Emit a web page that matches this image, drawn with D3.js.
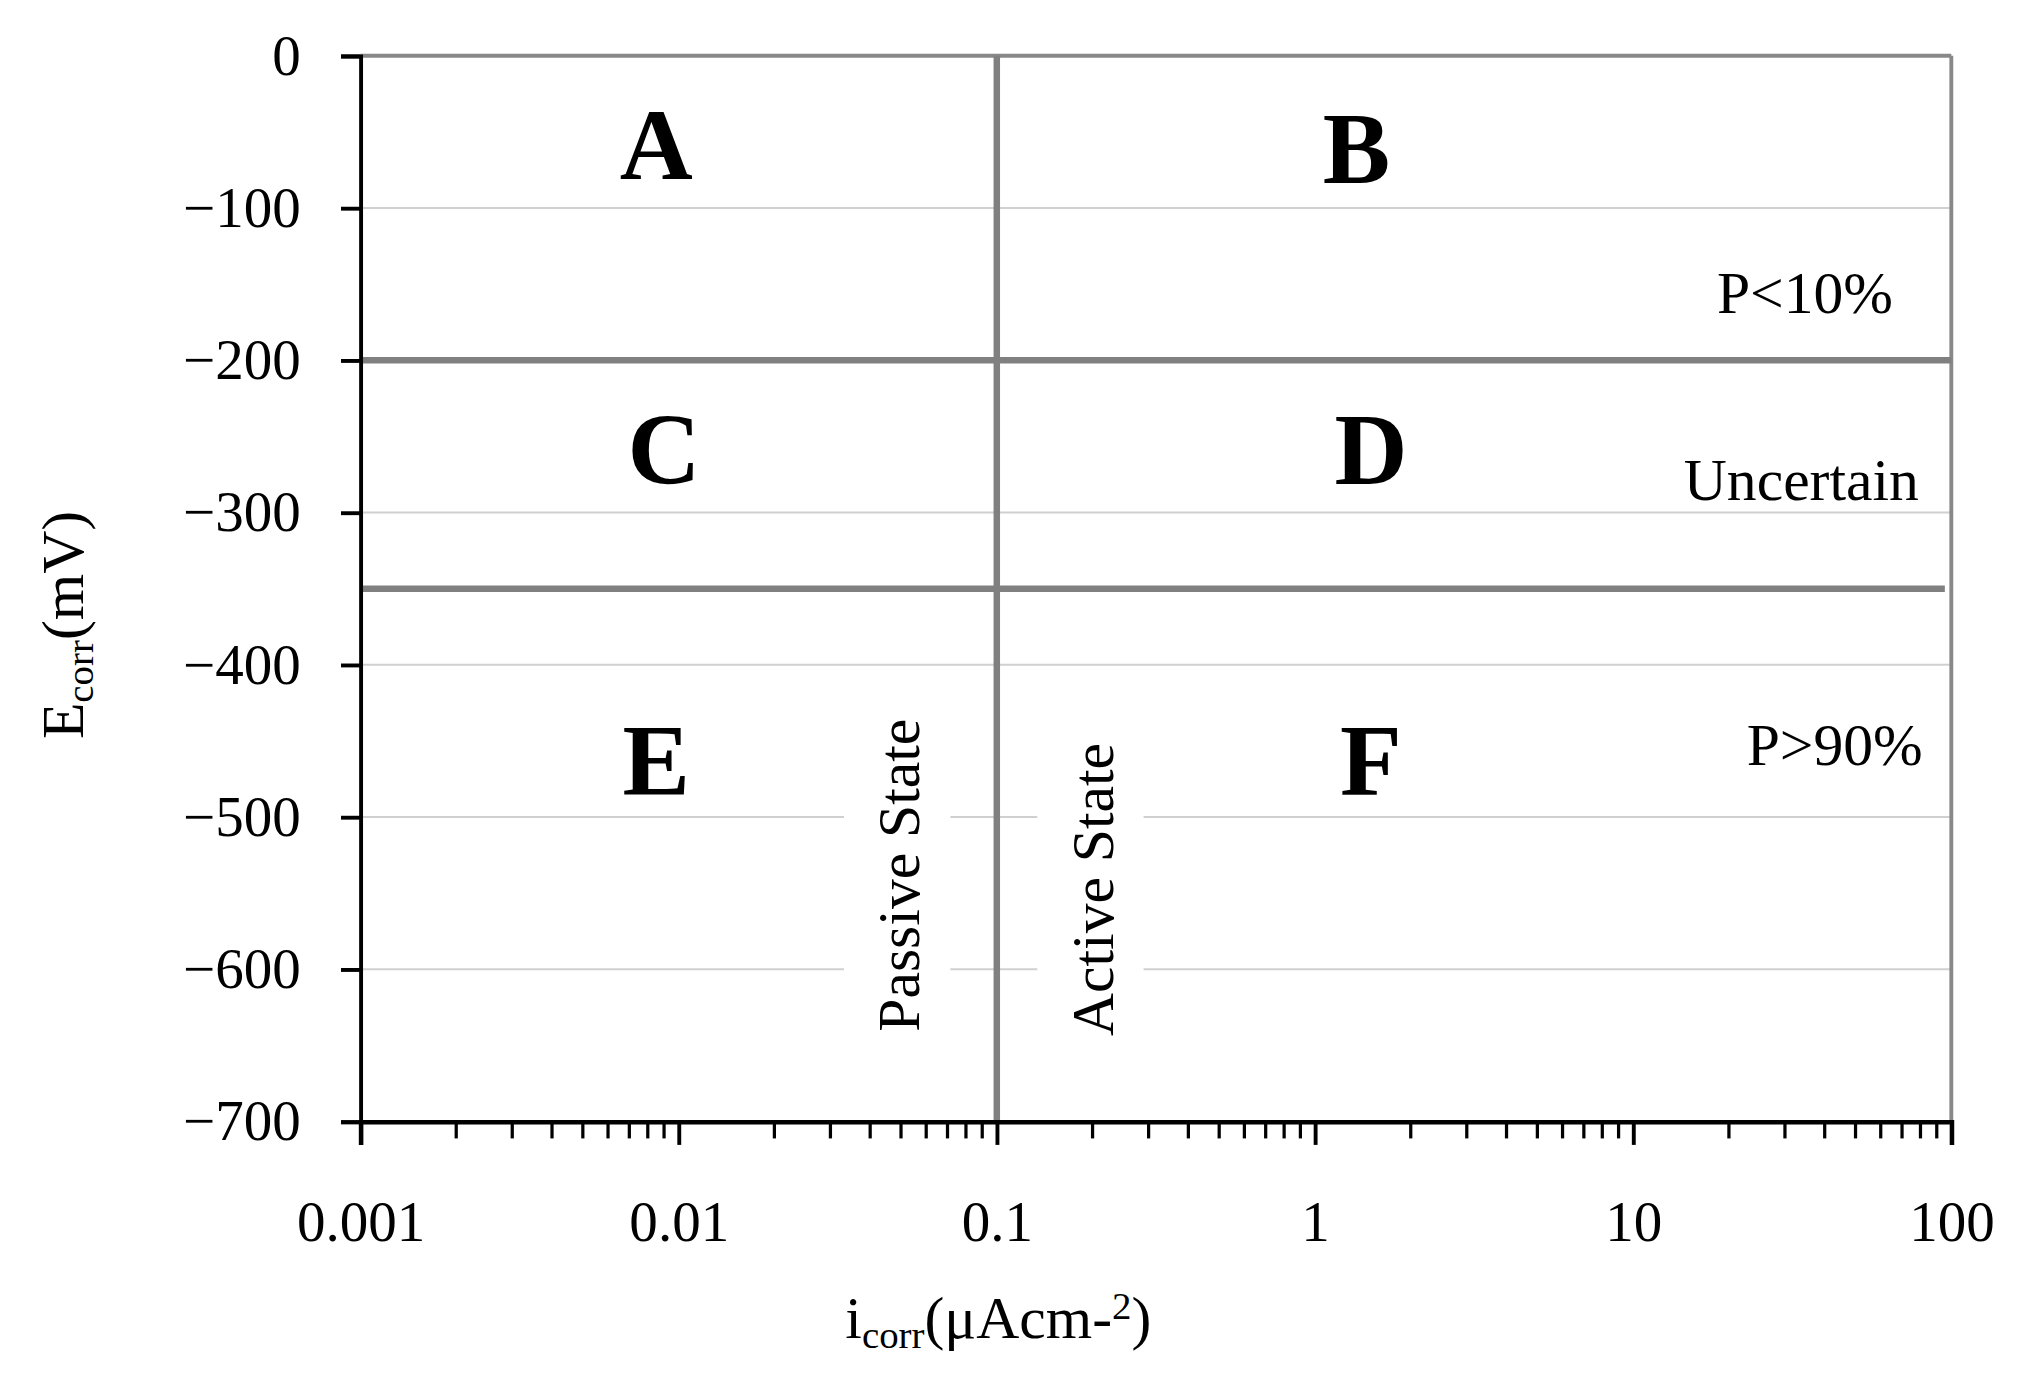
<!DOCTYPE html>
<html><head><meta charset="utf-8">
<script src="https://cdn.jsdelivr.net/npm/d3@7"></script>
<style>body{margin:0;background:#fff}text{font-family:"Liberation Serif","DejaVu Serif",serif}</style>
</head><body>
<svg id="c" width="2033" height="1390" viewBox="0 0 1568 1072"></svg>
<script>
const xTicks=[0.001,0.01,0.1,1,10,100];
const xTickLabels=["0.001","0.01","0.1","1","10","100"];
const yTicks=[0,-100,-200,-300,-400,-500,-600,-700];
const boundaryE=[-200,-350];
const boundaryI=[0.1];
const zones=[{l:"A",i:0.0085,e:-58},{l:"B",i:1.35,e:-60},{l:"C",i:0.009,e:-258},{l:"D",i:1.5,e:-258},{l:"E",i:0.0085,e:-462},{l:"F",i:1.5,e:-462}];
const probs=[{t:"P<10%",e:-155},{t:"Uncertain",e:-278},{t:"P>90%",e:-452}];

const svg=d3.select("#c");
const L=278,R=1505,T=43,B=865;
const x=d3.scaleLog().domain([0.001,100]).range([L,R]);
const y=d3.scaleLinear().domain([0,-700]).range([T,B]);

svg.selectAll(".g").data(yTicks.filter(v=>v!==0&&v!==-700&&!boundaryE.includes(v))).join("line")
 .attr("x1",L).attr("x2",R).attr("y1",d=>y(d)).attr("y2",d=>y(d)).attr("stroke","#d0d0d0").attr("stroke-width",1.5);
svg.append("line").attr("x1",L).attr("x2",R).attr("y1",T).attr("y2",T).attr("stroke","#888").attr("stroke-width",3);
svg.append("line").attr("x1",R).attr("x2",R).attr("y1",T).attr("y2",B).attr("stroke","#888").attr("stroke-width",3);
svg.append("line").attr("x1",L).attr("x2",R).attr("y1",y(-200)).attr("y2",y(-200)).attr("stroke","#808080").attr("stroke-width",5);
svg.append("line").attr("x1",L).attr("x2",R-5).attr("y1",y(-350)).attr("y2",y(-350)).attr("stroke","#808080").attr("stroke-width",5);
function vlab(t,cx,cy){
 const g=svg.append("g").attr("transform",`translate(${cx},${cy}) rotate(-90)`);
 g.append("rect").attr("x",-160).attr("y",-42).attr("width",320).attr("height",82).attr("fill","#fff");
 g.append("text").attr("text-anchor","middle").attr("dy","0.35em").attr("font-size",46).text(t);
}
vlab("Passive State",693,675);
vlab("Active State",842,686);
svg.append("line").attr("x1",x(0.1)).attr("x2",x(0.1)).attr("y1",T).attr("y2",B).attr("stroke","#808080").attr("stroke-width",5);

const ya=svg.append("g").attr("transform",`translate(${L},0)`).call(d3.axisLeft(y).tickValues(yTicks).tickSize(15).tickFormat(d=>d===0?"0":"\u2212"+Math.abs(d)));
ya.select(".domain").attr("stroke","#000").attr("stroke-width",3);
ya.selectAll(".tick line").attr("stroke-width",3);
ya.selectAll("text").attr("font-size",44).attr("x",-46).attr("font-family","Liberation Serif");
const minors=[];for(let p=-3;p<2;p++)for(let k=2;k<10;k++)minors.push(k*Math.pow(10,p));
svg.append("g").attr("transform",`translate(0,${B})`).selectAll("line").data(minors).join("line")
 .attr("x1",d=>x(d)).attr("x2",d=>x(d)).attr("y1",0).attr("y2",13).attr("stroke","#000").attr("stroke-width",2.5);
const xa=svg.append("g").attr("transform",`translate(0,${B})`).call(d3.axisBottom(x).tickValues(xTicks).tickSize(18).tickFormat((d,i)=>xTickLabels[i]));
xa.select(".domain").attr("stroke","#000").attr("stroke-width",3.5);
xa.selectAll(".tick line").attr("stroke-width",3);
xa.selectAll("text").attr("font-size",44).attr("dy",0).attr("y",92).attr("font-family","Liberation Serif");

svg.selectAll(".z").data(zones).join("text").attr("x",d=>x(d.i)).attr("y",d=>y(d.e)).attr("text-anchor","middle").attr("dy","0.35em")
 .attr("font-size",78).attr("font-weight","bold").text(d=>d.l);
const px={"P<10%":1460,"Uncertain":1480,"P>90%":1483};
svg.selectAll(".p").data(probs).join("text").attr("x",d=>px[d.t]).attr("y",d=>y(d.e)).attr("text-anchor","end").attr("dy","0.35em")
 .attr("font-size",46).text(d=>d.t);

const yt=svg.append("text").attr("transform","translate(64,482) rotate(-90)").attr("text-anchor","middle").attr("font-size",46);
yt.append("tspan").text("E");yt.append("tspan").attr("font-size",30).attr("dy",8).text("corr");yt.append("tspan").attr("dy",-8).text("(mV)");
const xt=svg.append("text").attr("x",770).attr("y",1032).attr("text-anchor","middle").attr("font-size",46);
xt.append("tspan").text("i");xt.append("tspan").attr("font-size",30).attr("dy",8).text("corr");xt.append("tspan").attr("dy",-8).text("(\u03bcAcm-");
xt.append("tspan").attr("font-size",30).attr("dy",-15).text("2");xt.append("tspan").attr("dy",15).text(")");
</script></body></html>
